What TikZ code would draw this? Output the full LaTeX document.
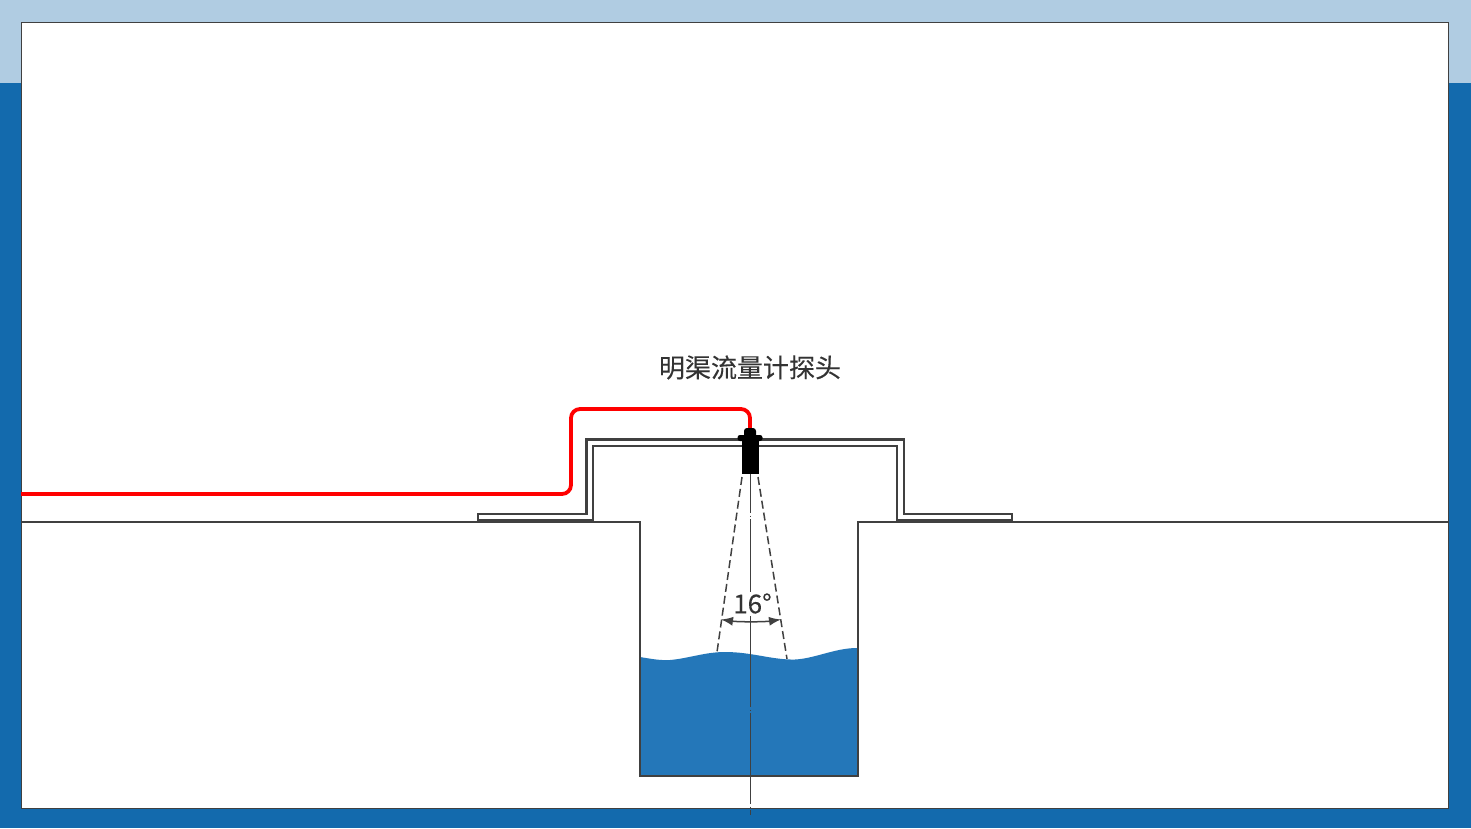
\documentclass[tikz,border=0pt]{standalone}
\usepackage{fontspec}
\setmainfont{Noto Sans CJK SC}
\usetikzlibrary{arrows.meta}
\usetikzlibrary{calc}
\definecolor{pageblue}{HTML}{136AAD}
\definecolor{bandblue}{HTML}{B0CCE2}
\definecolor{waterblue}{HTML}{2477B9}
\definecolor{linegray}{HTML}{404040}
\tikzstyle{wall}=[draw=linegray, line width=2.4pt]
\tikzstyle{cable}=[draw=red, line width=3.8pt]
\tikzstyle{beam}=[draw=linegray, line width=1.5pt, dash pattern=on 8pt off 4pt]
\tikzstyle{axis}=[draw=linegray, line width=1pt, dash pattern=on 91pt off 2.5pt on 1pt off 2.5pt, dash phase=52pt]
\tikzstyle{probe}=[fill=black]
\tikzstyle{caption}=[text=black!80!white, font=\fontsize{26}{30}\selectfont\addfontfeature{FakeBold=0.2}]
\newcommand{\probeBody}[1]{
	\fill[probe, rounded corners=3pt] ($#1+(-6,-21)$) rectangle ($#1+(6,-10)$);
	\fill[probe, rounded corners=2.5pt] ($#1+(-12.5,-14)$) rectangle ($#1+(12.5,-8)$);
	\fill[probe] ($#1+(-8.5,-11)$) rectangle ($#1+(8.5,25)$);
}
\begin{document}
\begin{tikzpicture}[x=1pt, y=-1pt]
	\useasboundingbox (0,0) rectangle (1471,828);
	\fill[pageblue] (0,0) rectangle (1471,828);
	\fill[bandblue] (0,0) rectangle (1471,83);
	\draw[fill=white, draw=linegray, line width=1.8pt] (21.5,22.5) rectangle (1448.5,808.5);
	\fill[waterblue] (640,657) .. controls (652,659) and (660,660.5) .. (670,660) .. controls (688,658.5) and (705,652) .. (725,652) .. controls (752,652) and (772,660) .. (795,659.5) .. controls (815,658.5) and (835,648) .. (857,648) -- (857,776) -- (640,776) -- cycle;
	\draw[wall] (21,522) -- (640,522) -- (640,776) -- (858,776) -- (858,522) -- (1449,522);
	\draw[wall, line join=miter] (478,514) -- (478,520.5) -- (593,520.5) -- (593,446) -- (897,446) -- (897,520.5) -- (1012,520.5) -- (1012,514) -- (904,514) -- (904,439.5) -- (586.5,439.5) -- (586.5,514) -- cycle;
	\draw[wall, line width=3.6pt] (478,520.5) -- (593,520.5);
	\draw[wall, line width=3.6pt] (897,520.5) -- (1012,520.5);
	\draw[cable, rounded corners=9pt] (21,494) -- (571,494) -- (571,409) -- (750,409) -- (750,432);
	\coordinate (probeC) at (750,449);
	\probeBody{(probeC)}
	\draw[beam] (742,477) -- (717,652);
	\draw[beam] (758,477) -- (787,659);
	\draw[axis] (750.5,474) -- (750.5,815);
	\coordinate (arcL) at (721,619.5);
	\coordinate (arcR) at (781,619.5);
	\node[caption, fill=white, inner sep=1pt] (angleLabel) at (752.5,603.5) {16°};
	\draw[linegray, line width=1.5pt, {Latex[length=12pt,width=9pt]}-{Latex[length=12pt,width=9pt]}] (arcL) .. controls (738,622) and (764,622) .. (arcR);
	\node[caption] (probeLabel) at (750,367.5) {明渠流量计探头};
\end{tikzpicture}
\end{document}
